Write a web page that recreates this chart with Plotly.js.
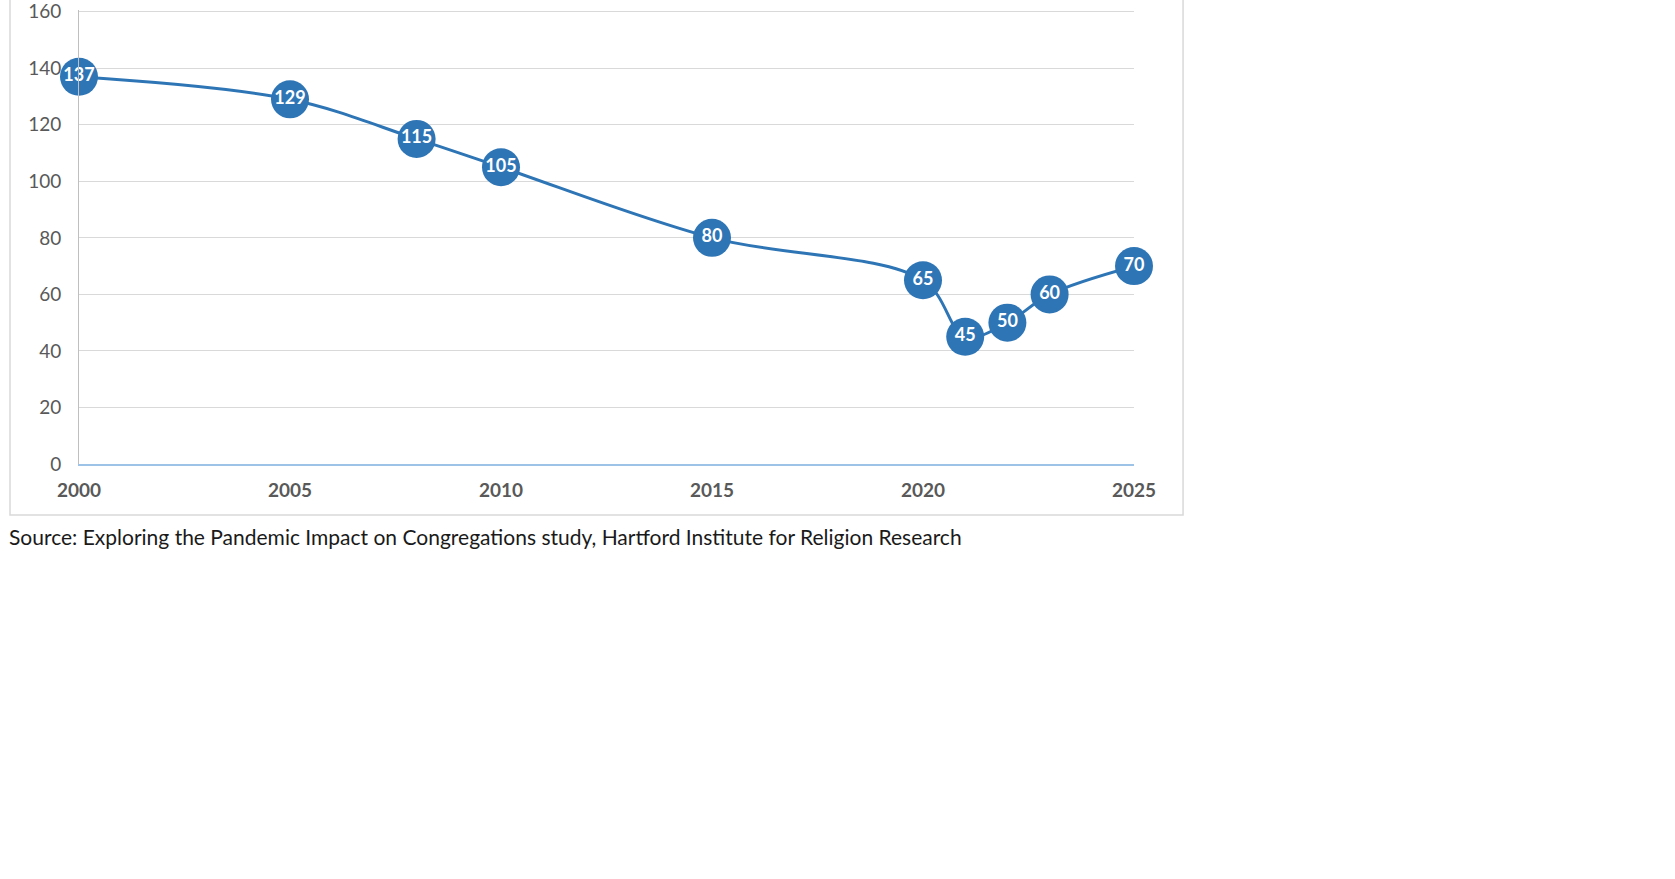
<!DOCTYPE html>
<html>
<head>
<meta charset="utf-8">
<script src="https://cdn.plot.ly/plotly-3.0.1.min.js"></script>
<style>
html,body{margin:0;padding:0;background:#fff;}
#chart{width:1675px;height:879px;}
</style>
</head>
<body>
<div id="chart"></div>
<script>
const years = [2000, 2005, 2008, 2010, 2015, 2020, 2021, 2022, 2023, 2025];
const values = [137, 129, 115, 105, 80, 65, 45, 50, 60, 70];
const xTicks = [2000, 2005, 2010, 2015, 2020, 2025];
const yTicks = [0, 20, 40, 60, 80, 100, 120, 140, 160];
const sourceText = "Source: Exploring the Pandemic Impact on Congregations study, Hartford Institute for Religion Research";

const blue = '#2E75B6';

const trace = {
  x: years,
  y: values,
  type: 'scatter',
  mode: 'lines+markers+text',
  text: values.map(String),
  textposition: 'middle center',
  textfont: {family: 'Lato, "Open Sans", sans-serif', size: 18, color: '#ffffff', weight: 'bold'},
  line: {color: blue, width: 3, shape: 'spline', smoothing: 1},
  marker: {color: blue, size: 38, line: {width: 0}},
  cliponaxis: false,
  hoverinfo: 'x+y',
  showlegend: false
};

const layout = {
  width: 1675,
  height: 879,
  margin: {l: 79, r: 541, t: 10, b: 415, pad: 0},
  paper_bgcolor: '#ffffff',
  plot_bgcolor: '#ffffff',
  showlegend: false,
  xaxis: {
    range: [2000, 2025],
    tickmode: 'array',
    tickvals: xTicks,
    ticktext: xTicks.map(String),
    showgrid: false,
    zeroline: false,
    showline: true,
    linecolor: '#9DC3E6',
    linewidth: 2,
    ticks: '',
    ticklabelstandoff: 8,
    ticklabeloverflow: 'allow',
    tickfont: {family: 'Lato, "Open Sans", sans-serif', size: 19, color: '#595959', weight: 'bold'},
    fixedrange: true
  },
  yaxis: {
    range: [0, 160.6],
    tickmode: 'array',
    tickvals: yTicks,
    ticktext: yTicks.map(String),
    showgrid: true,
    gridcolor: '#d9d9d9',
    gridwidth: 1,
    zeroline: false,
    showline: true,
    linecolor: '#bfbfbf',
    linewidth: 1,
    ticks: '',
    ticklabelstandoff: 13,
    ticklabeloverflow: 'allow',
    tickfont: {family: 'Lato, "Open Sans", sans-serif', size: 19, color: '#595959'},
    fixedrange: true
  },
  shapes: [{
    type: 'rect',
    xref: 'paper', yref: 'paper',
    x0: -0.0654, x1: 1.0465, y0: -0.1123, y1: 1.2,
    line: {color: '#d9d9d9', width: 1.5},
    fillcolor: 'rgba(0,0,0,0)',
    layer: 'below'
  }],
  annotations: [{
    xref: 'paper', yref: 'paper',
    x: -0.0685, y: -0.160,
    xanchor: 'left', yanchor: 'middle',
    showarrow: false,
    text: sourceText,
    font: {family: 'Lato, "Open Sans", sans-serif', size: 21, color: '#1a1a1a'}
  }]
};

Plotly.newPlot('chart', [trace], layout, {displayModeBar: false, staticPlot: true});
</script>
</body>
</html>
